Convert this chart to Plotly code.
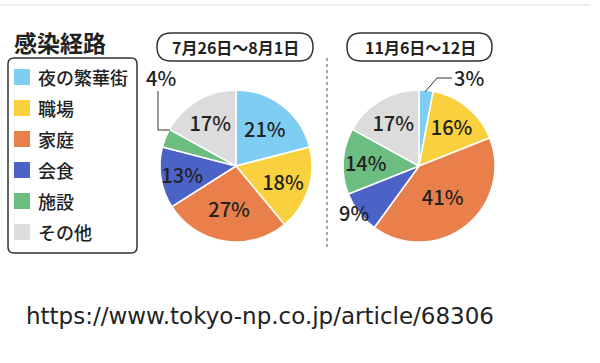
import plotly.graph_objects as go

W, H = 600, 363

categories = ["夜の繁華街", "職場", "家庭", "会食", "施設", "その他"]
colors = ["#7fcdf3", "#f9d13e", "#e9804b", "#4b62c6", "#6cbd80", "#dcdcdc"]
period1 = "7月26日～8月1日"
period2 = "11月6日～12日"
values1 = [21, 18, 27, 13, 4, 17]
values2 = [3, 16, 41, 9, 14, 17]
title_text = "感染経路"
source_text = "https://www.tokyo-np.co.jp/article/68306"

JP = "Noto Sans CJK JP"
NUMCOL = "#222222"


def px(x):
    return x / W


def py(y):
    return 1 - y / H


def inside_texts(vals, outside):
    return [("" if i in outside else f"{v}%") for i, v in enumerate(vals)]


fig = go.Figure()

pie_common = dict(
    sort=False,
    direction="clockwise",
    rotation=0,
    textinfo="text",
    textposition="inside",
    insidetextorientation="horizontal",
    textfont=dict(family=JP, size=20, color=NUMCOL, weight=500),
    marker=dict(colors=colors, line=dict(color="white", width=1.5)),
    showlegend=False,
    hoverinfo="label+percent",
)

fig.add_trace(go.Pie(
    labels=categories, values=values1,
    text=inside_texts(values1, {4}),
    domain=dict(x=[px(160), px(312)], y=[py(242), py(90)]),
    **pie_common,
))
fig.add_trace(go.Pie(
    labels=categories, values=values2,
    text=inside_texts(values2, {0, 3}),
    domain=dict(x=[px(343), px(495)], y=[py(242), py(90)]),
    **pie_common,
))

shapes = []
annotations = []


def label(text, x, y, size, xanchor="center", family=JP, weight=None, color="#222"):
    f = dict(family=family, size=size, color=color)
    if weight:
        f["weight"] = weight
    annotations.append(dict(text=text, x=px(x), y=py(y), xref="paper", yref="paper",
                            xanchor=xanchor, yanchor="middle", showarrow=False, font=f))


# top faint rule
shapes.append(dict(type="line", xref="paper", yref="paper",
                   x0=px(0), x1=px(590), y0=py(5), y1=py(5),
                   line=dict(color="#e6e6e6", width=1.5)))

# title
label(title_text, 12, 42, 23, xanchor="left", weight=700)

# legend box (rounded)
x0, y0, x1, y1, r = 8, 58, 137, 253, 6
path = (f"M {px(x0+r)},{py(y0)} L {px(x1-r)},{py(y0)} "
        f"Q {px(x1)},{py(y0)} {px(x1)},{py(y0+r)} L {px(x1)},{py(y1-r)} "
        f"Q {px(x1)},{py(y1)} {px(x1-r)},{py(y1)} L {px(x0+r)},{py(y1)} "
        f"Q {px(x0)},{py(y1)} {px(x0)},{py(y1-r)} L {px(x0)},{py(y0+r)} "
        f"Q {px(x0)},{py(y0)} {px(x0+r)},{py(y0)} Z")
shapes.append(dict(type="path", xref="paper", yref="paper", path=path,
                   line=dict(color="#333", width=1.5), fillcolor="rgba(0,0,0,0)"))

row_y = [77, 108, 139, 170, 201, 232]
for cat, col, yy in zip(categories, colors, row_y):
    shapes.append(dict(type="rect", xref="paper", yref="paper",
                       x0=px(14), x1=px(30), y0=py(yy + 8), y1=py(yy - 8),
                       fillcolor=col, line=dict(width=0)))
    label(cat, 36, yy, 18, xanchor="left", weight=500)


# period pills
def pill(xa, xb, ya, yb):
    rr = (yb - ya) / 2
    p = (f"M {px(xa+rr)},{py(ya)} L {px(xb-rr)},{py(ya)} "
         f"Q {px(xb)},{py(ya)} {px(xb)},{py(ya+rr)} "
         f"Q {px(xb)},{py(yb)} {px(xb-rr)},{py(yb)} "
         f"L {px(xa+rr)},{py(yb)} "
         f"Q {px(xa)},{py(yb)} {px(xa)},{py(ya+rr)} "
         f"Q {px(xa)},{py(ya)} {px(xa+rr)},{py(ya)} Z")
    return dict(type="path", xref="paper", yref="paper", path=p, layer="below",
                line=dict(color="#333", width=1.5), fillcolor="white")


shapes.append(pill(157, 313, 33, 61))
shapes.append(pill(347, 492, 33, 61))
label(period1, 235, 47, 16, weight=700)
label(period2, 420, 47, 16, weight=700)

# dotted separator
shapes.append(dict(type="line", xref="paper", yref="paper",
                   x0=px(327), x1=px(327), y0=py(58), y1=py(250),
                   line=dict(color="#888", width=1.5, dash="dot")))

# outside labels
label(f"{values1[4]}%", 161, 77, 20, weight=500)
shapes.append(dict(type="path", xref="paper", yref="paper",
                   path=f"M {px(158)},{py(91)} L {px(158)},{py(130)} L {px(170)},{py(130)}",
                   line=dict(color="#333", width=1)))

label(f"{values2[0]}%", 452, 78, 20, xanchor="left", weight=500)
shapes.append(dict(type="path", xref="paper", yref="paper",
                   path=f"M {px(425)},{py(92)} L {px(437)},{py(78)} L {px(452)},{py(78)}",
                   line=dict(color="#333", width=1)))

label(f"{values2[3]}%", 354, 212, 20, weight=500)

# source url
label(source_text, 24, 316, 23, xanchor="left", family="DejaVu Sans")

fig.update_layout(
    width=W, height=H,
    margin=dict(l=0, r=0, t=0, b=0),
    paper_bgcolor="white", plot_bgcolor="white",
    shapes=shapes, annotations=annotations,
    showlegend=False,
    uniformtext=dict(minsize=20, mode="show"),
)

fig.write_html("out.html", config={"displayModeBar": False},
               post_script="document.body.style.margin='0';")
